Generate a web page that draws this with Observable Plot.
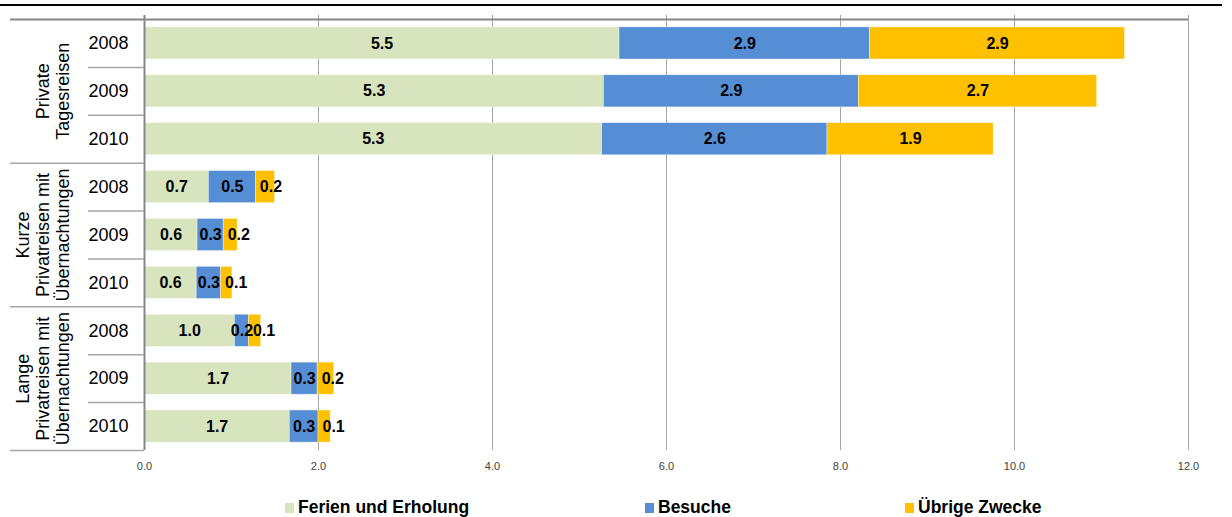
<!DOCTYPE html>
<html>
<head>
<meta charset="utf-8">
<script src="https://cdn.jsdelivr.net/npm/d3@7"></script>
<script src="https://cdn.jsdelivr.net/npm/@observablehq/plot@0.6"></script>
<style>
  html, body { margin: 0; padding: 0; background: #fff; }
  #wrap { position: relative; width: 1232px; height: 517px; font-family: "Liberation Sans", Arial, sans-serif; }
  #topline { position: absolute; left: 0; top: 4px; width: 1222px; height: 2px; background: #000; }
  #chart { position: absolute; left: 0; top: 0; }
  #legend { position: absolute; left: 0; top: 480px; width: 1232px; height: 37px; }
  .item { position: absolute; top: 17px; display: flex; align-items: center; font-weight: bold; font-size: 17.5px; color: #000; }
  .sw { width: 9px; height: 10px; margin-right: 4px; }
</style>
</head>
<body>
<div id="wrap">
  <div id="chart"></div>
  <div id="topline"></div>
  <div id="legend"></div>
</div>
<script>
// ---- data ----
const groups = ["Private\nTagesreisen", "Kurze\nPrivatreisen mit\nÜbernachtungen", "Lange\nPrivatreisen mit\nÜbernachtungen"];
const years = ["2008", "2009", "2010"];
const series = ["Ferien und Erholung", "Besuche", "Übrige Zwecke"];
const ferien  = [5.46, 5.28, 5.26, 0.74, 0.61, 0.60, 1.04, 1.69, 1.67];
const besuche = [2.88, 2.93, 2.59, 0.54, 0.30, 0.28, 0.16, 0.30, 0.33];
const uebrige = [2.93, 2.74, 1.91, 0.22, 0.16, 0.13, 0.14, 0.19, 0.14];
const colors = ["#D7E4BD", "#558ED5", "#FFC000"];
const xTicks = [0, 2, 4, 6, 8, 10, 12];
const legendX = [285, 645, 905];

// ---- build table ----
const rowKeys = [];
groups.forEach((g, gi) => years.forEach(y => rowKeys.push(gi + "|" + y)));
const seriesValues = [ferien, besuche, uebrige];
const table = [];
rowKeys.forEach((k, i) => series.forEach((s, si) => table.push({row: k, series: s, si, value: seriesValues[si][i]})));

const W = 1232, H = 480, mL = 144, mR = 44, mT = 15, mB = 30, inT = 4;
const step = (H - mB - mT - inT) / rowKeys.length;
const frameW = W - mL - mR;

const groupStarts = rowKeys.filter((k, i) => i % 3 === 0 && i > 0);
const innerStarts = rowKeys.filter((k, i) => i % 3 !== 0);
const groupMid = rowKeys.filter((k, i) => i % 3 === 1).map((k, i) => ({row: k, label: groups[i]}));

const font = "'Liberation Sans', Arial, sans-serif";
const isSmallLast = d => d.si === 2 && d.value < 0.5;
const fmt = d => d.value.toFixed(1);

const chart = Plot.plot({
  width: W, height: H,
  marginLeft: mL, marginRight: mR, marginTop: mT, marginBottom: mB,
  style: {fontFamily: font, background: "#fff", overflow: "visible"},
  x: {domain: [0, 12]},
  y: {domain: rowKeys, paddingInner: 0.33, paddingOuter: 0.165, insetTop: inT, round: false},
  color: {domain: series, range: colors},
  marks: [
    Plot.gridX(xTicks, {stroke: "#a6a6a6", strokeOpacity: 1, strokeWidth: 1}),
    Plot.barX(table, Plot.stackX({y: "row", x: "value", fill: "series", z: "series", stroke: "#ffffff", strokeWidth: 0.6, strokeOpacity: 0.6})),
    Plot.text(table, Plot.stackX({y: "row", x: "value", z: "series", text: d => isSmallLast(d) ? "" : fmt(d), fill: "#000", fontWeight: "bold", fontSize: 16})),
    Plot.text(table, Plot.stackX1({y: "row", x: "value", z: "series", text: d => isSmallLast(d) ? fmt(d) : "", textAnchor: "start", dx: 4, fill: "#000", fontWeight: "bold", fontSize: 16})),
    Plot.ruleX([0], {stroke: "#868686", strokeWidth: 2}),
    // table lines in left area
    Plot.ruleY(rowKeys.slice(0, 1), {y: d => d, dy: -step / 2, stroke: "#868686", strokeWidth: 2, insetLeft: -(mL - 10)}),
    Plot.ruleY(groupStarts, {y: d => d, dy: -step / 2, stroke: "#a6a6a6", strokeWidth: 1.5, insetLeft: -(mL - 10), insetRight: frameW}),
    Plot.ruleY(rowKeys.slice(-1), {y: d => d, dy: step / 2, stroke: "#a6a6a6", strokeWidth: 1.5, insetLeft: -(mL - 10), insetRight: frameW}),
    Plot.ruleY(innerStarts, {y: d => d, dy: -step / 2, stroke: "#a6a6a6", strokeWidth: 1.5, insetLeft: -(mL - 88), insetRight: frameW}),
    Plot.axisX(xTicks, {tickSize: 0, tickPadding: 12, tickFormat: d => d.toFixed(1), fontSize: 11, fill: "#404040", label: null}),
    Plot.axisY({tickSize: 0, tickPadding: 16, tickFormat: k => k.split("|")[1], fontSize: 18, fill: "#000", label: null}),
    Plot.text(groupMid, {y: "row", text: "label", frameAnchor: "left", dx: -76, rotate: -90, textAnchor: "middle", lineAnchor: "bottom", fontSize: 18, lineHeight: 1.1, fill: "#000"})
  ]
});
document.getElementById("chart").appendChild(chart);

// ---- legend ----
const leg = document.getElementById("legend");
series.forEach((s, i) => {
  const it = document.createElement("div");
  it.className = "item";
  it.style.left = legendX[i] + "px";
  const sw = document.createElement("span");
  sw.className = "sw";
  sw.style.background = colors[i];
  const tx = document.createElement("span");
  tx.textContent = s;
  it.appendChild(sw); it.appendChild(tx);
  leg.appendChild(it);
});
</script>
</body>
</html>
